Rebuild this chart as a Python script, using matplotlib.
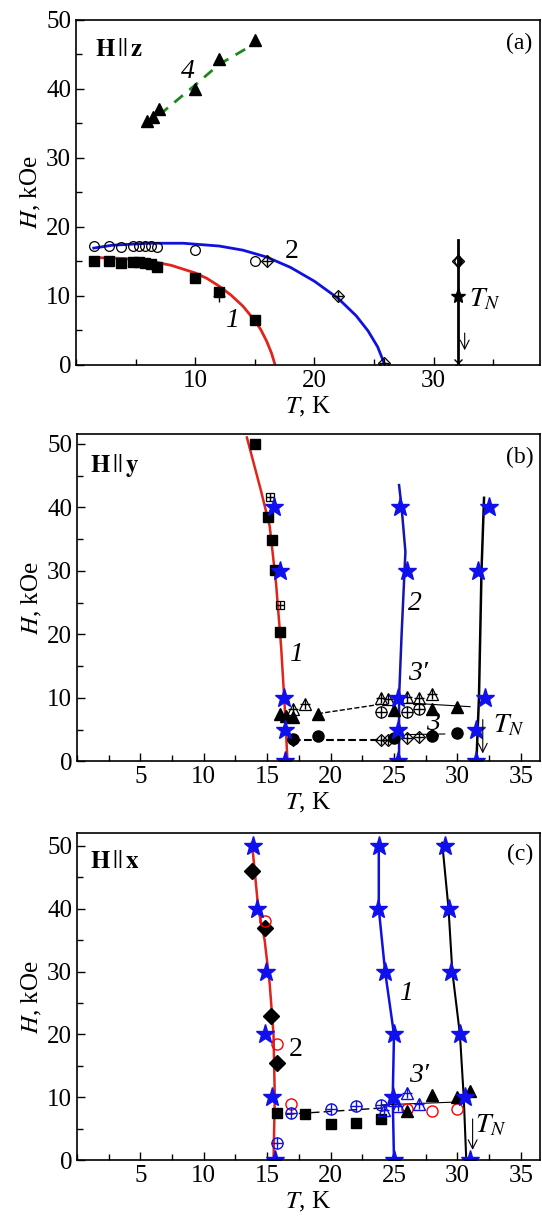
import matplotlib
matplotlib.use("Agg")
import matplotlib.pyplot as plt
from matplotlib.ticker import MultipleLocator

plt.rcParams['font.family'] = ['Liberation Serif', 'DejaVu Serif']
plt.rcParams['mathtext.fontset'] = 'stix'
plt.rcParams['font.size'] = 16

# ---------------- panel (a): H || z ----------------
a_fit1_T = [2, 4, 6, 8, 10, 11, 12, 13, 14, 15, 15.5, 16, 16.4, 16.7]
a_fit1_H = [15.5, 15.4, 15.1, 14.4, 13.3, 12.5, 11.4, 10.1, 8.5, 6.4, 5.1, 3.4, 1.7, 0]
a_fit2_T = [1.5, 3, 6, 9, 12, 14, 16, 18, 20, 22, 23.5, 24.5, 25.3, 25.9]
a_fit2_H = [16.9, 17.3, 17.6, 17.6, 17.2, 16.6, 15.6, 14.1, 12.1, 9.6, 7.1, 4.9, 2.6, 0]
a_sq_T = [1.5, 2.8, 3.8, 4.8, 5.3, 5.8, 6.3, 6.8, 10, 12, 15]
a_sq_H = [15, 15, 14.8, 14.9, 14.9, 14.8, 14.6, 14.2, 12.6, 10.5, 6.5]
a_circ_T = [1.5, 2.8, 3.8, 4.8, 5.3, 5.8, 6.3, 6.8, 10, 15]
a_circ_H = [17.2, 17.2, 17.1, 17.2, 17.2, 17.2, 17.2, 17.1, 16.6, 15]
a_dia_T = [16, 22, 25.8]
a_dia_H = [15, 10, 0.2]
a_tri_T = [6, 6.5, 7, 10, 12, 15]
a_tri_H = [35.3, 35.9, 37, 40, 44.3, 47]
a_fit4_T = [7, 10, 12, 15]
a_fit4_H = [36.2, 40.5, 43.5, 46.5]
a_TN = 32

# ---------------- panel (b): H || y ----------------
b_fit1_T = [13.4, 14.5, 15.2, 15.7, 16.1, 16.4, 16.6]
b_fit1_H = [51, 42.7, 37, 28, 18, 8, 0]
b_fit2_T = [25.4, 25.6, 25.9, 25.6, 25.4, 25.4]
b_fit2_H = [43.5, 40, 33, 20, 10, 0]
b_fitN_T = [32.1, 31.9, 31.7, 31.5]
b_fitN_H = [41.5, 30, 10, 0]
b_sq_T = [14, 15.1, 15.4, 15.6, 16]
b_sq_H = [50, 38.4, 34.8, 30.2, 20.3]
b_sqp_T = [15.2, 16]
b_sqp_H = [41.7, 24.6]
b_star_T = [15.5, 16, 16.3, 16.4, 16.4, 25.5, 26, 25.3, 25.3, 25.3, 31.6, 32.5, 32.2, 31.5, 31.5]
b_star_H = [40, 30, 10, 5, 0, 40, 30, 10, 5, 0, 30, 40, 10, 5, 0]
b_tri_T = [16, 16.5, 17, 19, 25, 28, 30]
b_tri_H = [7.5, 7.2, 7, 7.5, 8, 8.2, 8.5]
b_trip_T = [17, 18, 24, 24.5, 26, 27, 28]
b_trip_H = [8.3, 9, 10, 9.8, 10.2, 10, 10.6]
b_circp_T = [24, 26, 27]
b_circp_H = [7.8, 7.8, 8.2]
b_circ_T = [17, 19, 25, 28, 30]
b_circ_H = [3.5, 4, 3.6, 4, 4.4]
b_diap_T = [17, 24, 24.5, 26, 27, 28]
b_diap_H = [3.3, 3.3, 3.4, 3.6, 3.8, 4.2]

# ---------------- panel (c): H || x ----------------
c_fit2_T = [13.8, 14.3, 14.8, 15.2, 15.5, 15.6, 15.5]
c_fit2_H = [50.5, 40, 35, 28, 20, 10, 0]
c_fit1_T = [23.8, 23.8, 24.3, 25, 24.9, 25]
c_fit1_H = [50, 40, 30, 20, 10, 0]
c_fitN_T = [28.8, 29.3, 29.6, 30.2, 30.5, 30.7]
c_fitN_H = [50.5, 40, 30, 20, 10, 0]
c_star_T = [13.9, 14.2, 14.9, 14.8, 15.4, 15.6, 23.8, 23.7, 24.3, 25, 24.9, 25,
            29, 29.3, 29.5, 30.2, 30.6, 31]
c_star_H = [50, 40, 30, 20, 10, 0, 50, 40, 30, 20, 10, 0, 50, 40, 30, 20, 10, 0]
c_dia_T = [13.8, 14.8, 15.3, 15.8]
c_dia_H = [46, 37, 23, 15.5]
c_rc_T = [14.8, 15.8, 16.9, 26, 28, 30]
c_rc_H = [38, 18.5, 9, 8.2, 7.9, 8.1]
c_bcp_T = [15.8, 16.9, 20, 22, 24]
c_bcp_H = [2.8, 7.5, 8.2, 8.6, 8.8]
c_btp_T = [24.2, 25, 25.3, 26, 27]
c_btp_H = [8, 9.5, 8.7, 10.7, 9]
c_tri_T = [26, 28, 30, 31]
c_tri_H = [7.9, 10.3, 10, 11]
c_sq_T = [15.8, 18, 20, 22, 24]
c_sq_H = [7.5, 7.3, 5.7, 5.9, 6.5]

fig = plt.figure(figsize=(5.42, 12.2), dpi=100)
ax_a = fig.add_axes([0.140, 0.701, 0.856, 0.283])
ax_b = fig.add_axes([0.142, 0.376, 0.854, 0.268])
ax_c = fig.add_axes([0.142, 0.049, 0.854, 0.268])

ms = 7
kw_open = dict(ls='none', mfc='none', mec='k', mew=0.9)
lab = dict(fontsize=20, style='italic')

# (a)
ax = ax_a
ax.plot(a_fit1_T, a_fit1_H, color='#e0241b', lw=2)
ax.plot(a_fit2_T, a_fit2_H, color='#1010e0', lw=2)
ax.plot(a_fit4_T, a_fit4_H, color='#1a8a1a', lw=2, ls=(0, (4, 3)))
ax.plot(a_sq_T, a_sq_H, 's', color='k', ms=ms)
ax.plot([12], [10], '+', color='k', ms=8)
ax.plot(a_circ_T, a_circ_H, 'o', ms=ms, **kw_open)
ax.plot(a_dia_T, a_dia_H, 'D', ms=6, **kw_open)
ax.plot(a_dia_T, a_dia_H, '+', color='k', ms=7)
ax.plot(a_tri_T, a_tri_H, '^', color='k', ms=9)
ax.plot([a_TN, a_TN], [0, 18], color='k', lw=2)
ax.plot([a_TN], [10], '*', color='k', ms=11)
ax.plot([a_TN], [15], 'D', color='k', ms=6, mfc='none')
ax.plot([a_TN], [15], 'd', color='k', ms=7, fillstyle='right')
ax.plot([a_TN], [0.3], 'x', color='k', ms=6)
ax.annotate('', xy=(32.6, 1.7), xytext=(32.6, 5), arrowprops=dict(arrowstyle='->', lw=0.8))
ax.text(33, 8.5, r'$T_N$', fontsize=20)
ax.text(17.5, 15.5, '2', fontsize=20)
ax.text(12.5, 5.5, '1', **lab)
ax.text(8.8, 41.5, '4', **lab)
ax.text(1.6, 44.7, r'$\mathbf{H}\,||\,\mathbf{z}$', fontsize=18)
ax.text(38.3, 45.7, '(a)', ha='right', fontsize=17)
ax.set_xlim(0, 38.9)
ax.set_ylim(0, 50)
ax.xaxis.set_major_locator(MultipleLocator(10))
ax.xaxis.set_minor_locator(MultipleLocator(5))

# (b)
ax = ax_b
ax.plot(b_fit1_T, b_fit1_H, color='#e0241b', lw=1.8)
ax.plot(b_fit2_T, b_fit2_H, color='#1515b0', lw=1.8)
ax.plot(b_fitN_T, b_fitN_H, color='k', lw=1.8)
ax.plot([19, 24], [7.5, 9], 'k--', lw=1)
ax.plot([26, 31], [9.2, 8.6], 'k-', lw=0.8)
ax.plot([17, 24], [3.3, 3.3], 'k--', lw=1.5)
ax.plot([26, 29], [4.2, 4.3], 'k-', lw=0.8)
ax.plot(b_sq_T, b_sq_H, 's', color='k', ms=ms)
ax.plot(b_sqp_T, b_sqp_H, 's', ms=6, **kw_open)
ax.plot(b_sqp_T, b_sqp_H, '+', color='k', ms=6)
ax.plot(b_tri_T, b_tri_H, '^', color='k', ms=9)
ax.plot(b_trip_T, b_trip_H, '^', ms=9, **kw_open)
ax.plot(b_trip_T, b_trip_H, '+', color='k', ms=7)
ax.plot(b_circp_T, b_circp_H, 'o', ms=8, **kw_open)
ax.plot(b_circp_T, b_circp_H, '+', color='k', ms=8)
ax.plot(b_circ_T, b_circ_H, 'o', color='k', ms=8)
ax.plot(b_diap_T, b_diap_H, 'D', ms=6, **kw_open)
ax.plot(b_diap_T, b_diap_H, '+', color='k', ms=7)
ax.plot(b_star_T, b_star_H, '*', color='#1010ee', ms=14, ls='none')
ax.annotate('', xy=(32, 0.8), xytext=(32, 7), arrowprops=dict(arrowstyle='->', lw=0.8))
ax.text(32.8, 4.5, r'$T_N$', fontsize=20)
ax.text(16.7, 15.8, '1', **lab)
ax.text(26.1, 23.8, '2', **lab)
ax.text(26.1, 12.8, "3\u2032", **lab)
ax.text(27.5, 5.0, '3', **lab)
ax.text(1, 45.5, r'$\mathbf{H}\,||\,\mathbf{y}$', fontsize=18)
ax.text(36, 47.0, '(b)', ha='right', fontsize=17)
ax.set_xlim(0, 36.5)
ax.set_ylim(0, 51.5)

# (c)
ax = ax_c
ax.plot(c_fit2_T, c_fit2_H, color='#e0241b', lw=1.8)
ax.plot(c_fit1_T, c_fit1_H, color='#1010e0', lw=1.8)
ax.plot(c_fitN_T, c_fitN_H, color='k', lw=1.5)
ax.plot([16.5, 24], [7.3, 8.3], 'k--', lw=1, dashes=(6, 3))
ax.plot([24, 30.5], [8.8, 9.3], 'k-', lw=0.8)
ax.plot(c_sq_T, c_sq_H, 's', color='k', ms=ms)
ax.plot(c_dia_T, c_dia_H, 'D', color='k', ms=8)
ax.plot(c_rc_T, c_rc_H, 'o', ms=8, ls='none', mfc='none', mec='red', mew=1)
ax.plot(c_bcp_T, c_bcp_H, 'o', ms=8, ls='none', mfc='none', mec='#1010e0', mew=1)
ax.plot(c_bcp_T, c_bcp_H, '+', ms=8, ls='none', color='#1010e0')
ax.plot(c_btp_T, c_btp_H, '^', ms=9, ls='none', mfc='none', mec='#1010e0', mew=1)
ax.plot(c_btp_T, c_btp_H, '+', ms=7, ls='none', color='#1010e0')
ax.plot(c_tri_T, c_tri_H, '^', color='k', ms=9, ls='none')
ax.plot(c_star_T, c_star_H, '*', color='#1010ee', ms=14, ls='none')
ax.annotate('', xy=(31.2, 1.2), xytext=(31.2, 7), arrowprops=dict(arrowstyle='->', lw=0.8))
ax.text(31.4, 4.5, r'$T_N$', fontsize=20)
ax.text(25.4, 25.5, '1', **lab)
ax.text(16.7, 16.5, '2', fontsize=20)
ax.text(26.2, 12.5, "3\u2032", **lab)
ax.text(1, 46.5, r'$\mathbf{H}\,||\,\mathbf{x}$', fontsize=18)
ax.text(36, 47.8, '(c)', ha='right', fontsize=17)
ax.set_xlim(0, 36.5)
ax.set_ylim(0, 52)

for ax in (ax_b, ax_c):
    ax.xaxis.set_major_locator(MultipleLocator(5))
    ax.xaxis.set_minor_locator(MultipleLocator(2.5))

for ax in (ax_a, ax_b, ax_c):
    ax.yaxis.set_major_locator(MultipleLocator(10))
    ax.yaxis.set_minor_locator(MultipleLocator(5))
    ax.tick_params(which='both', direction='in', labelsize=18, width=1)
    ax.tick_params(which='major', length=6)
    ax.tick_params(which='minor', length=4)
    ax.set_xlabel(r'$T$, K', fontsize=18, labelpad=2)
    ax.set_ylabel(r'$H$, kOe', fontsize=18, labelpad=2)
    for s in ax.spines.values():
        s.set_linewidth(1.2)
    # drop the lone zero on the x axis
    ax.set_xticks([t for t in ax.get_xticks() if 0 < t <= ax.get_xlim()[1]])

fig.savefig('out.png', dpi=100)
